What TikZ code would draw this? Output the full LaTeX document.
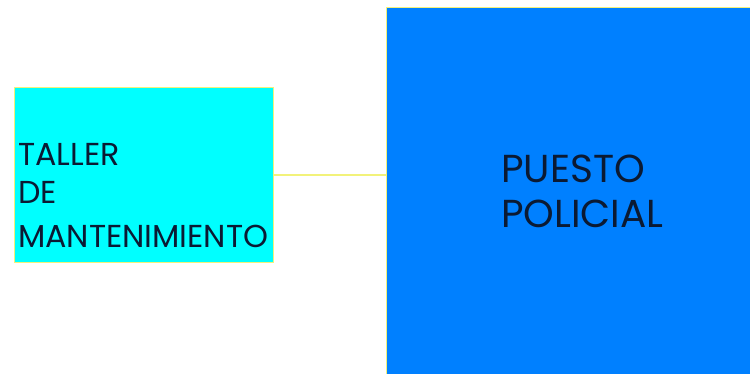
\documentclass[tikz,border=0pt]{standalone}
\usepackage{fontspec}
\setmainfont{Poppins}
\definecolor{cyanbox}{HTML}{00FFFF}
\definecolor{bluebox}{HTML}{0080FF}
\definecolor{yline}{HTML}{F2F27A}
\definecolor{ink}{HTML}{0B1A33}
\tikzset{
  box/.style={draw=yline, line width=1pt, inner sep=0pt, anchor=north west},
  lbl/.style={text=ink, inner sep=0pt, align=left, anchor=base west},
  small/.style={lbl, font=\fontsize{31.7}{41}\selectfont},
  big/.style={lbl, font=\fontsize{39}{45}\selectfont},
}
\begin{document}
\begin{tikzpicture}[x=1pt,y=-1pt]
\useasboundingbox (0,0) rectangle (750,373);
\clip (0,0) rectangle (750,373);
\fill[white] (0,0) rectangle (750,373);
\node[box, fill=cyanbox, minimum width=259pt, minimum height=175pt] (taller) at (14,87) {};
\node[box, fill=bluebox, minimum width=380pt, minimum height=380pt] (puesto) at (386,7) {};
\draw[yline, line width=2.4pt] (taller.east |- 0,175) -- (puesto.west |- 0,175);
\node[small] (t1) at (18,165) {TALLER};
\node[small] (t2) at (18,203) {DE};
\node[small] (t3) at (18,247) {MANTENIMIENTO};
\node[big] (p1) at (501,182) {PUESTO};
\node[big] (p2) at (501,227) {POLICIAL};
\end{tikzpicture}
\end{document}
